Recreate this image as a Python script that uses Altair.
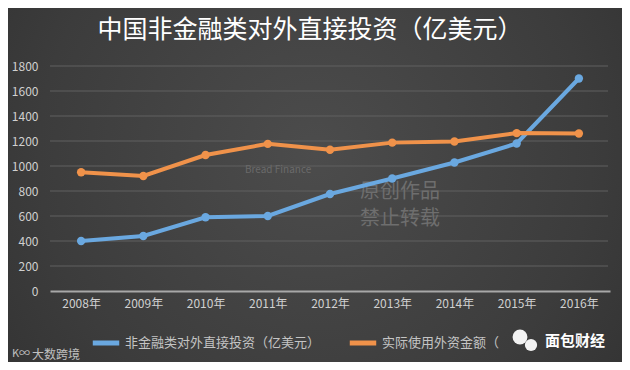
import altair as alt
import pandas as pd

years = ["2008年", "2009年", "2010年", "2011年", "2012年", "2013年", "2014年", "2015年", "2016年"]
odi = [400, 440, 590, 600, 776, 900, 1028, 1180, 1700]
fdi = [950, 920, 1088, 1177, 1130, 1187, 1196, 1263, 1260]
series = ["非金融类对外直接投资（亿美元）", "实际使用外资金额（亿美元）"]
colors = ["#6aa8e0", "#f0924a"]
y_ticks = [0, 200, 400, 600, 800, 1000, 1200, 1400, 1600, 1800]

title_text = "中国非金融类对外直接投资（亿美元）"
FONT = "Noto Sans CJK SC"

rows = []
for y, a, b in zip(years, odi, fdi):
    rows.append({"year": y, "series": series[0], "value": a})
    rows.append({"year": y, "series": series[1], "value": b})
df = pd.DataFrame(rows)
grid_df = pd.DataFrame({"value": y_ticks[1:]})

W, H = 560, 225

x = alt.X("year:O", sort=years, scale=alt.Scale(type="point", padding=0.5),
          axis=alt.Axis(title=None, labelAngle=0, labelColor="#d0d0d0", labelFontSize=12,
                        labelFont=FONT, labelPadding=7, ticks=False, domain=True,
                        domainColor="#a8a8a8", domainWidth=2, grid=False, zindex=1))
y = alt.Y("value:Q", scale=alt.Scale(domain=[0, 1800]),
          axis=alt.Axis(title=None, values=y_ticks, format="d", labelOverlap=False,
                        labelColor="#d0d0d0", labelFontSize=12,
                        labelFont=FONT, labelPadding=12, ticks=False, domain=False,
                        grid=False, zindex=1))
color_scale = alt.Scale(domain=series, range=colors)

one = alt.Data(values=[{"k": 1}])

bg = alt.Chart(one).mark_rect(
    fill=alt.Gradient(gradient="radial", x1=0.5, y1=0.45, x2=0.5, y2=0.45, r1=0, r2=0.75,
                      stops=[alt.GradientStop(color="#4c4c4c", offset=0),
                             alt.GradientStop(color="#3c3c3c", offset=0.6),
                             alt.GradientStop(color="#2e2e2e", offset=1)])
).encode(x=alt.value(-42), x2=alt.value(W + 12), y=alt.value(-58), y2=alt.value(H + 71))

grid = alt.Chart(grid_df).mark_rule(color="#606060", strokeWidth=1).encode(
    y=y, x=alt.value(0), x2=alt.value(W - 2))

def txt(t, px, py, size, col, align="left", weight="normal", opacity=1.0):
    return alt.Chart(alt.Data(values=[{"t": t}])).mark_text(
        align=align, baseline="middle", font=FONT, fontSize=size, color=col,
        fontWeight=weight, opacity=opacity
    ).encode(text="t:N", x=alt.value(px), y=alt.value(py))

wm1 = txt("原创作品", 310, 126, 20, "#6e6e6e")
wm2 = txt("禁止转载", 310, 153, 20, "#6e6e6e")
wm3 = txt("Bread Finance", 195, 104, 10, "#6a6a6a")

lines = alt.Chart(df).mark_line(strokeWidth=4).encode(
    x=x, y=y,
    color=alt.Color("series:N", scale=color_scale, sort=series,
                    legend=alt.Legend(title=None, orient="none", legendX=40, legendY=261,
                                      direction="horizontal", symbolType="stroke",
                                      symbolStrokeWidth=5, symbolSize=700,
                                      labelFont=FONT, labelFontSize=13, labelColor="#c4c4c4",
                                      labelLimit=400, columnPadding=18, padding=0, labelOffset=3,
                                      labelExpr="datum.label == '实际使用外资金额（亿美元）' ? '实际使用外资金额（' : datum.label")),
    detail="series:N",
)
points = alt.Chart(df).mark_point(filled=True, size=70, opacity=1).encode(
    x=x, y=y, color=alt.Color("series:N", scale=color_scale, legend=None)
)

title = txt(title_text, 260, -36, 25, "#ffffff", align="center")

icon1 = alt.Chart(one).mark_point(filled=True, shape="circle", size=220, color="#f2f2f2", opacity=1).encode(
    x=alt.value(470), y=alt.value(271))
icon2 = alt.Chart(one).mark_point(filled=True, shape="circle", size=150, color="#f2f2f2", opacity=1).encode(
    x=alt.value(481), y=alt.value(279))
brand = txt("面包财经", 495, 275, 15, "#ffffff", weight="bold")
src_logo = txt("K∞", -38, 288, 11, "#c0c0c0")
src = txt("大数跨境", -18, 289, 12, "#c0c0c0")

chart = alt.layer(bg, grid, wm1, wm2, wm3, lines, points, title, icon1, icon2, brand, src_logo, src).properties(
    width=W, height=H,
    autosize=alt.AutoSizeParams(type="none"),
    padding={"left": 42, "top": 58, "right": 12, "bottom": 71},
    background="#3a3a3a",
).configure_view(stroke=None)

chart.save("out.html", embed_options={"renderer": "svg", "actions": False})
